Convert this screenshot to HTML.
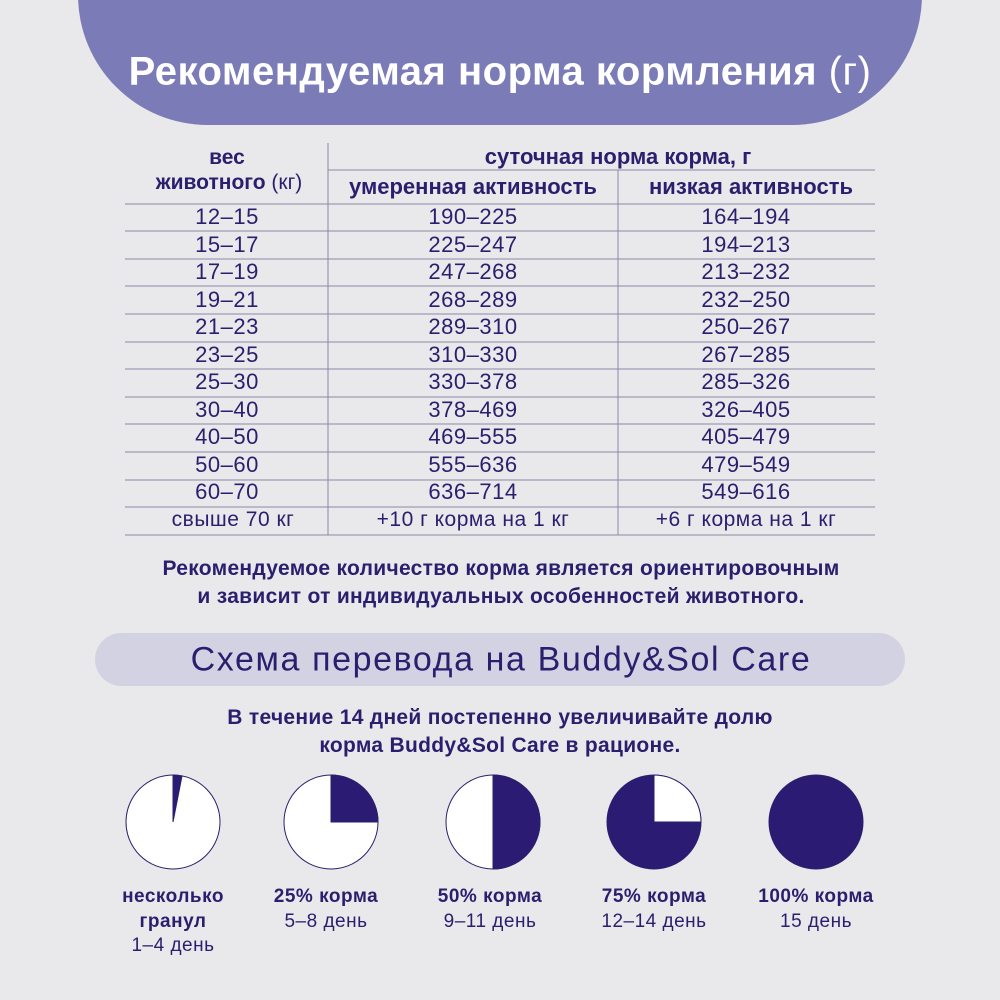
<!DOCTYPE html>
<html><head><meta charset="utf-8"><style>
body{margin:0;width:1000px;height:1000px;background:#e9e8ea;position:relative;overflow:hidden;font-family:"Liberation Sans","DejaVu Sans",sans-serif;color:#2a1f6e}
.t{position:absolute;white-space:nowrap;text-align:center;transform:translate(-50%,-50%)}
.b{font-weight:bold}
.n{font-size:22px;letter-spacing:0.5px}
.s{font-size:21px;letter-spacing:0.5px}
</style></head><body>
<div style="position:absolute;left:78px;top:-200px;width:844px;height:325px;background:#7b7bb8;border-radius:0 0 130px 130px"></div>
<div class="t b" style="left:500px;top:72px;color:#fff;font-size:40px;letter-spacing:0.5px">Рекомендуемая норма кормления <span style="font-weight:normal">(г)</span></div>
<svg style="position:absolute;left:0;top:0" width="1000" height="1000">
<g stroke="#8a88a8" stroke-width="1">
<line x1="328" y1="143" x2="328" y2="535"/><line x1="618" y1="170" x2="618" y2="535"/>
<line x1="328" y1="170" x2="875" y2="170"/>
<line x1="125" y1="204" x2="875" y2="204"/>
<line x1="125" y1="231" x2="875" y2="231"/><line x1="125" y1="259" x2="875" y2="259"/>
<line x1="125" y1="286" x2="875" y2="286"/><line x1="125" y1="314" x2="875" y2="314"/>
<line x1="125" y1="342" x2="875" y2="342"/><line x1="125" y1="369" x2="875" y2="369"/>
<line x1="125" y1="397" x2="875" y2="397"/><line x1="125" y1="424" x2="875" y2="424"/>
<line x1="125" y1="452" x2="875" y2="452"/><line x1="125" y1="480" x2="875" y2="480"/>
<line x1="125" y1="507" x2="875" y2="507"/><line x1="125" y1="535" x2="875" y2="535"/>
</g>
<g stroke="#2a1f6e" stroke-width="1">
<circle cx="173" cy="822" r="47" fill="#fff"/>
<path d="M173 822 L173 775 A47 47 0 0 1 182 776 Z" fill="#2b1b72"/>
<circle cx="331" cy="822" r="47" fill="#fff"/>
<path d="M331 822 L331 775 A47 47 0 0 1 378 822 Z" fill="#2b1b72"/>
<circle cx="493" cy="822" r="47" fill="#fff"/>
<path d="M493 822 L493 775 A47 47 0 0 1 493 869 Z" fill="#2b1b72"/>
<circle cx="654" cy="822" r="47" fill="#2b1b72"/>
<path d="M654 822 L654 775 A47 47 0 0 1 701 822 Z" fill="#fff"/>
<circle cx="816" cy="822" r="47" fill="#2b1b72"/>
</g>
</svg>
<div class="t b" style="left:227px;top:158px;font-size:21px">вес</div>
<div class="t b" style="left:229px;top:183px;font-size:21px">животного <span style="font-weight:normal">(кг)</span></div>
<div class="t b" style="left:618px;top:157px;font-size:22px">суточная норма корма, г</div>
<div class="t b" style="left:473px;top:187px;font-size:22px">умеренная активность</div>
<div class="t b" style="left:751px;top:187px;font-size:22px">низкая активность</div>
<div class="t n" style="left:227px;top:217px">12–15</div><div class="t n" style="left:473px;top:217px">190–225</div><div class="t n" style="left:746px;top:217px">164–194</div>
<div class="t n" style="left:227px;top:245px">15–17</div><div class="t n" style="left:473px;top:245px">225–247</div><div class="t n" style="left:746px;top:245px">194–213</div>
<div class="t n" style="left:227px;top:272px">17–19</div><div class="t n" style="left:473px;top:272px">247–268</div><div class="t n" style="left:746px;top:272px">213–232</div>
<div class="t n" style="left:227px;top:300px">19–21</div><div class="t n" style="left:473px;top:300px">268–289</div><div class="t n" style="left:746px;top:300px">232–250</div>
<div class="t n" style="left:227px;top:327px">21–23</div><div class="t n" style="left:473px;top:327px">289–310</div><div class="t n" style="left:746px;top:327px">250–267</div>
<div class="t n" style="left:227px;top:355px">23–25</div><div class="t n" style="left:473px;top:355px">310–330</div><div class="t n" style="left:746px;top:355px">267–285</div>
<div class="t n" style="left:227px;top:382px">25–30</div><div class="t n" style="left:473px;top:382px">330–378</div><div class="t n" style="left:746px;top:382px">285–326</div>
<div class="t n" style="left:227px;top:410px">30–40</div><div class="t n" style="left:473px;top:410px">378–469</div><div class="t n" style="left:746px;top:410px">326–405</div>
<div class="t n" style="left:227px;top:437px">40–50</div><div class="t n" style="left:473px;top:437px">469–555</div><div class="t n" style="left:746px;top:437px">405–479</div>
<div class="t n" style="left:227px;top:465px">50–60</div><div class="t n" style="left:473px;top:465px">555–636</div><div class="t n" style="left:746px;top:465px">479–549</div>
<div class="t n" style="left:227px;top:492px">60–70</div><div class="t n" style="left:473px;top:492px">636–714</div><div class="t n" style="left:746px;top:492px">549–616</div>
<div class="t s" style="left:233px;top:520px">свыше 70 кг</div><div class="t s" style="left:473px;top:520px">+10 г корма на 1 кг</div><div class="t s" style="left:746px;top:520px">+6 г корма на 1 кг</div>
<div class="t b" style="left:501px;top:569px;font-size:21px;letter-spacing:0.3px">Рекомендуемое количество корма является ориентировочным</div>
<div class="t b" style="left:501px;top:597px;font-size:21px;letter-spacing:0.3px">и зависит от индивидуальных особенностей животного.</div>
<div style="position:absolute;left:95px;top:633px;width:810px;height:53px;background:#d3d2e3;border-radius:27px"></div>
<div class="t" style="left:501px;top:660px;font-size:34px;letter-spacing:1.6px;">Схема перевода на Buddy&amp;Sol Care</div>
<div class="t b" style="left:500px;top:718px;font-size:21px;letter-spacing:0.3px">В течение 14 дней постепенно увеличивайте долю</div>
<div class="t b" style="left:500px;top:746px;font-size:21px;letter-spacing:0.3px">корма Buddy&amp;Sol Care в рационе.</div>
<div class="t b" style="left:173px;top:897px;font-size:19px;letter-spacing:0.5px">несколько</div>
<div class="t b" style="left:173px;top:922px;font-size:19px;letter-spacing:0.5px">гранул</div>
<div class="t" style="left:173px;top:946px;font-size:19px;letter-spacing:0.5px">1–4 день</div>
<div class="t b" style="left:326px;top:897px;font-size:19px;letter-spacing:0.5px">25% корма</div>
<div class="t" style="left:326px;top:922px;font-size:19px;letter-spacing:0.5px">5–8 день</div>
<div class="t b" style="left:490px;top:897px;font-size:19px;letter-spacing:0.5px">50% корма</div>
<div class="t" style="left:490px;top:922px;font-size:19px;letter-spacing:0.5px">9–11 день</div>
<div class="t b" style="left:654px;top:897px;font-size:19px;letter-spacing:0.5px">75% корма</div>
<div class="t" style="left:654px;top:922px;font-size:19px;letter-spacing:0.5px">12–14 день</div>
<div class="t b" style="left:816px;top:897px;font-size:19px;letter-spacing:0.5px">100% корма</div>
<div class="t" style="left:816px;top:922px;font-size:19px;letter-spacing:0.5px">15 день</div>
</body></html>
